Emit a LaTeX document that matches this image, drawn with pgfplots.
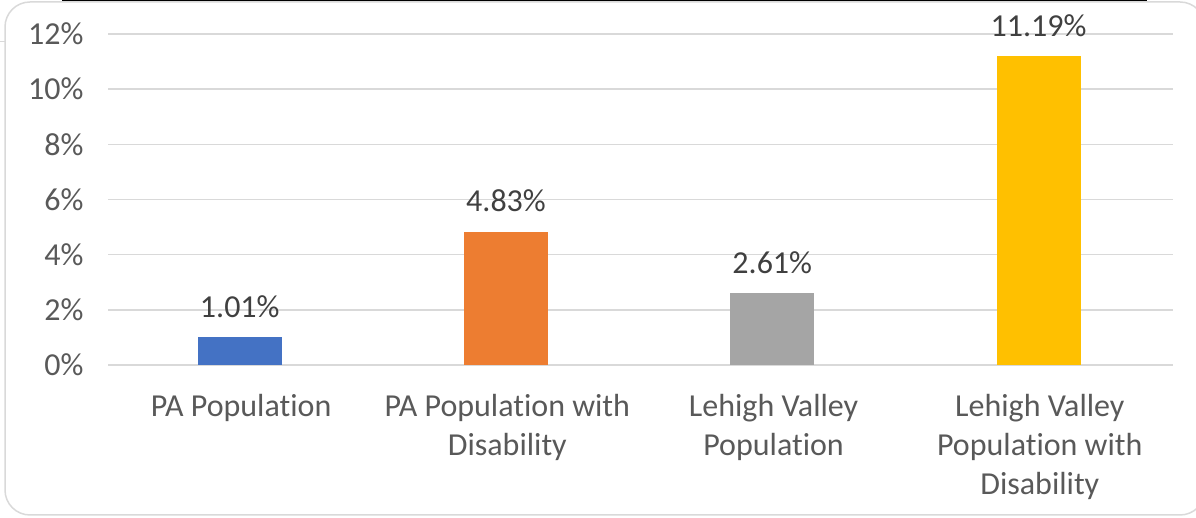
\documentclass[border=0pt]{standalone}
\usepackage{pgfplots}
\pgfplotsset{compat=1.18}
\usepackage{fontspec}
\setmainfont{Carlito}[Ligatures=NoCommon]
\definecolor{gridgray}{HTML}{D9D9D9}
\definecolor{ticktext}{HTML}{595959}
\definecolor{labeltext}{HTML}{404040}
\definecolor{cblue}{HTML}{4472C4}
\definecolor{corange}{HTML}{ED7D31}
\definecolor{cgray}{HTML}{A5A5A5}
\definecolor{cgold}{HTML}{FFC000}
\begin{document}
\begin{tikzpicture}[x=1pt,y=1pt]
\useasboundingbox (0,0) rectangle (1196,518);
\begin{scope}
\clip (0,0) rectangle (1196,518);
\draw[gridgray, line width=1.5pt, rounded corners=25pt] (5,3) rectangle (1205,516);
\draw[black, line width=2.5pt] (62,518) -- (1147,518);
\draw[gridgray, line width=1pt] (0,476) -- (5,476);
\end{scope}
\begin{axis}[
  at={(108pt,153pt)}, anchor=south west,
  scale only axis, width=1065pt, height=331pt,
  xmin=-0.5, xmax=3.5, ymin=0, ymax=12,
  axis line style={draw=none},
  ytick={0,2,4,6,8,10,12},
  yticklabels={0\%,2\%,4\%,6\%,8\%,10\%,12\%},
  ymajorgrids, grid style={gridgray, line width=1.5pt},
  xtick={0,1,2,3},
  xticklabels={PA Population, PA Population with\\Disability, Lehigh Valley\\Population, Lehigh Valley\\Population with\\Disability},
  major tick length=0pt,
  tick style={draw=none},
  yticklabel style={font=\fontsize{32}{39}\selectfont, text=ticktext, anchor=east, xshift=-21pt},
  xticklabel style={font=\fontsize{32}{39}\selectfont, text=ticktext, align=center, anchor=north, yshift=-26pt},
  ybar, bar width=84pt, bar shift=0pt,
  clip=false,
  nodes near coords={\pgfmathprintnumber[fixed,fixed zerofill,precision=2,assume math mode=true]{\pgfplotspointmeta}\%},
  nodes near coords style={font=\fontsize{32}{39}\selectfont, text=labeltext, anchor=base, yshift=20pt},
]
\addplot[fill=cblue, draw=none] coordinates {(-0.005,1.01)};
\addplot[fill=corange, draw=none] coordinates {(0.995,4.83)};
\addplot[fill=cgray, draw=none] coordinates {(1.995,2.61)};
\addplot[fill=cgold, draw=none] coordinates {(2.995,11.19)};
\end{axis}
\end{tikzpicture}
\end{document}
